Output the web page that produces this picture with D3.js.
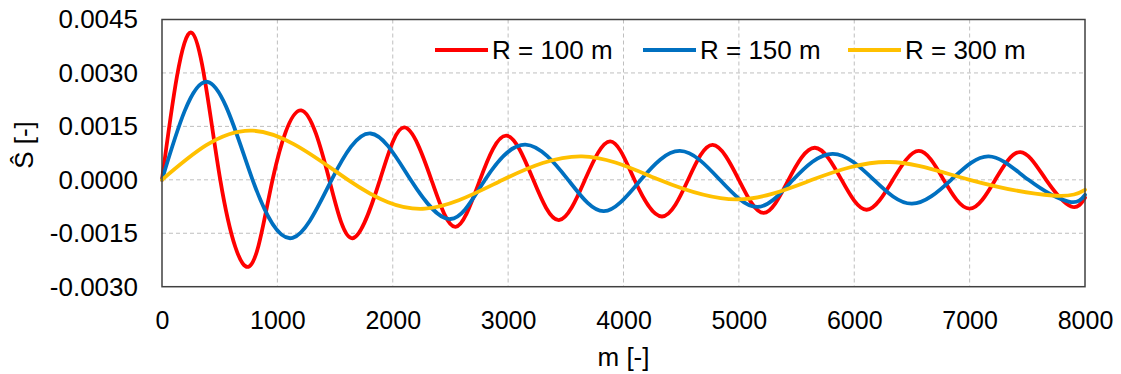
<!DOCTYPE html>
<html>
<head>
<meta charset="utf-8">
<script src="https://cdn.jsdelivr.net/npm/d3@7"></script>
<style>
  html, body { margin: 0; padding: 0; background: #fff; }
  svg { display: block; font-family: "Liberation Sans", Arial, sans-serif; }
</style>
</head>
<body>
<svg id="chart" width="1121" height="374"></svg>
<script>
// ---- data ----
const xTicks = [0, 1000, 2000, 3000, 4000, 5000, 6000, 7000, 8000];
const yTicks = [-0.003, -0.0015, 0, 0.0015, 0.003, 0.0045];

const seriesNames = ["R = 100 m", "R = 150 m", "R = 300 m"];
const seriesColors = ["#FF0000", "#0070C0", "#FFC000"];

const r100X = [0, 257, 505, 757, 958, 1207, 1450, 1652, 1889, 2102, 2335, 2544, 2756, 2984, 3218, 3440, 3666, 3885, 4095, 4334, 4560, 4773, 5000, 5215, 5430, 5659, 5890, 6108, 6335, 6560, 6775, 6999, 7222, 7440, 7663, 7880, 8000];
const r100Y = [0, 0.00413, 0, -0.00243, 0, 0.00195, 0, -0.00164, 0, 0.00147, 0, -0.00132, 0, 0.00124, 0, -0.00113, 0, 0.00108, 0, -0.00103, 0, 0.00098, 0, -0.00093, 0, 0.00090, 0, -0.00084, 0, 0.00081, 0, -0.00081, 0, 0.00078, 0, -0.00075, -0.00050];

const r150X = [0, 395, 785, 1132, 1470, 1808, 2155, 2500, 2800, 3150, 3520, 3830, 4150, 4489, 4835, 5160, 5470, 5815, 6170, 6500, 6840, 7165, 7510, 7858, 8000];
const r150Y = [0, 0.00275, 0, -0.00163, 0, 0.00130, 0, -0.00110, 0, 0.00099, 0, -0.00088, 0, 0.00081, 0, -0.00076, 0, 0.00073, 0, -0.00067, 0, 0.00066, 0, -0.00061, -0.00042];

const r300X = [0, 785, 1612, 2280, 2955, 3640, 4310, 4990, 5635, 6300, 7000, 7720, 8000];
const r300Y = [0, 0.00138, 0, -0.00081, 0, 0.00066, 0, -0.00055, 0, 0.00050, 0, -0.00044, -0.00028];

// ---- layout ----
const svg = d3.select("#chart");
const plot = { left: 162, right: 1085, top: 19.5, bottom: 286.7 };

const x = d3.scaleLinear().domain([0, 8000]).range([plot.left, plot.right]);
const y = d3.scaleLinear().domain([-0.003, 0.0045]).range([plot.bottom, plot.top]);

// grid
const grid = svg.append("g");
grid.selectAll("line.h").data(yTicks.filter(d => d > -0.003 && d < 0.0045)).enter()
  .append("line")
  .attr("x1", plot.left).attr("x2", plot.right)
  .attr("y1", d => y(d)).attr("y2", d => y(d))
  .attr("stroke", "#BFBFBF").attr("stroke-width", 1).attr("stroke-dasharray", "4,3");
grid.selectAll("line.v").data(xTicks.filter(d => d > 0 && d < 8000)).enter()
  .append("line")
  .attr("y1", plot.top).attr("y2", plot.bottom)
  .attr("x1", d => x(d)).attr("x2", d => x(d))
  .attr("stroke", "#BFBFBF").attr("stroke-width", 1).attr("stroke-dasharray", "4,3");

// axes (labels only)
const yAxis = d3.axisLeft(y).tickValues(yTicks).tickSize(0).tickPadding(24)
  .tickFormat(d => d.toFixed(4));
const gy = svg.append("g").attr("transform", `translate(${plot.left},0)`).call(yAxis);
gy.select(".domain").remove();
gy.selectAll("text").attr("font-size", 26).attr("fill", "#000")
  .attr("font-family", "'Liberation Sans', Arial, sans-serif");

const xAxis = d3.axisBottom(x).tickValues(xTicks).tickSize(0).tickPadding(25)
  .tickFormat(d3.format("d"));
const gx = svg.append("g").attr("transform", `translate(0,${plot.bottom})`).call(xAxis);
gx.select(".domain").remove();
gx.selectAll("text").attr("font-size", 25).attr("fill", "#000")
  .attr("font-family", "'Liberation Sans', Arial, sans-serif");

// series
const series = [
  { name: seriesNames[0], color: seriesColors[0], xs: r100X, ys: r100Y },
  { name: seriesNames[1], color: seriesColors[1], xs: r150X, ys: r150Y },
  { name: seriesNames[2], color: seriesColors[2], xs: r300X, ys: r300Y }
];
const line = d3.line().x(d => x(d[0])).y(d => y(d[1])).curve(d3.curveNatural);
svg.append("g").selectAll("path").data(series).enter()
  .append("path")
  .attr("d", s => line(s.xs.map((v, i) => [v, s.ys[i]])))
  .attr("fill", "none")
  .attr("stroke", s => s.color)
  .attr("stroke-width", 3.8)
  .attr("stroke-linejoin", "round")
  .attr("stroke-linecap", "round");

// frame
svg.append("rect")
  .attr("x", plot.left).attr("y", plot.top)
  .attr("width", plot.right - plot.left).attr("height", plot.bottom - plot.top)
  .attr("fill", "none").attr("stroke", "#404040").attr("stroke-width", 1.5);

// legend
const legendX = [435, 643, 848];
const lg = svg.append("g");
series.forEach((s, i) => {
  lg.append("line")
    .attr("x1", legendX[i]).attr("x2", legendX[i] + 53)
    .attr("y1", 50).attr("y2", 50)
    .attr("stroke", s.color).attr("stroke-width", 4);
  lg.append("text")
    .attr("x", legendX[i] + 57).attr("y", 50)
    .attr("dy", "0.35em")
    .attr("font-size", 26)
    .attr("fill", "#000")
    .text(s.name);
});

// axis titles
svg.append("text")
  .attr("x", (plot.left + plot.right) / 2).attr("y", 366)
  .attr("text-anchor", "middle").attr("font-size", 26).attr("fill", "#000")
  .text("m [-]");

svg.append("text")
  .attr("transform", `translate(33,145) rotate(-90)`)
  .attr("text-anchor", "middle").attr("font-size", 26).attr("fill", "#000")
  .text("Ŝ [-]");
</script>
</body>
</html>
